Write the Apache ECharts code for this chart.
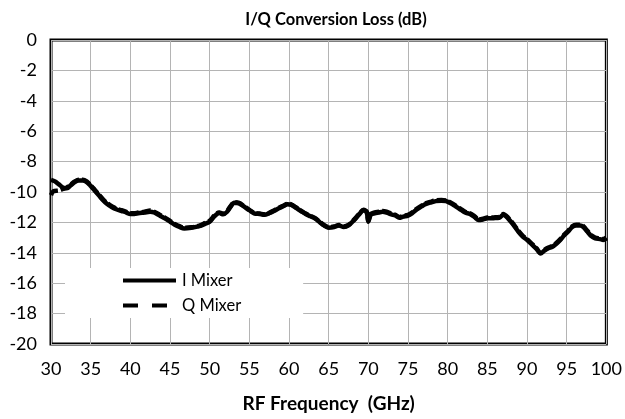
<!DOCTYPE html>
<html>
<head>
<meta charset="utf-8">
<script src="https://cdn.jsdelivr.net/npm/echarts@6/dist/echarts.min.js"></script>
<style>html,body{margin:0;padding:0;background:#fff}#c{width:625px;height:419px}</style>
</head>
<body>
<div id="c"></div>
<script>
var freqI = [30,30.5,31,31.5,32,32.5,33,33.5,34,34.5,35,35.5,36,36.5,37,37.7,38.3,38.9,39.5,40,40.5,41,41.8,42.5,43,43.7,44.4,45,45.6,46.2,46.8,47.7,48.7,49.4,50,50.6,51.2,51.7,52.2,52.6,53.1,53.7,54.3,55,55.6,56.3,56.9,57.5,58.1,58.8,59.4,59.8,60.3,60.9,61.5,62.1,62.7,63.3,63.9,64.4,65,65.7,66.3,66.9,67.5,68.2,68.8,69.4,69.8,70,70.3,70.8,71.3,71.8,72.3,72.9,73.4,73.9,74.4,75,75.5,76.1,76.7,77.2,77.8,78.5,79.2,79.8,80.4,81,81.6,82.2,82.8,83.4,83.9,84.5,85,85.8,86.5,87,87.6,88.2,88.9,89.5,90,90.7,91.2,91.7,92.2,92.7,93.2,93.7,94.2,94.7,95.2,95.7,96.2,96.7,97.1,97.6,98.1,98.6,99.2,99.6,100];
var lossI = [-9.2,-9.3,-9.5,-9.7,-9.75,-9.55,-9.35,-9.25,-9.25,-9.35,-9.6,-9.9,-10.2,-10.5,-10.75,-11.0,-11.15,-11.25,-11.35,-11.45,-11.45,-11.4,-11.35,-11.3,-11.35,-11.55,-11.75,-11.95,-12.15,-12.3,-12.4,-12.35,-12.25,-12.1,-11.95,-11.6,-11.38,-11.47,-11.3,-11.0,-10.7,-10.75,-10.95,-11.2,-11.4,-11.45,-11.5,-11.4,-11.25,-11.05,-10.9,-10.8,-10.85,-11.05,-11.25,-11.45,-11.6,-11.75,-12.0,-12.2,-12.35,-12.3,-12.2,-12.3,-12.2,-11.85,-11.5,-11.2,-11.35,-11.95,-11.5,-11.4,-11.35,-11.3,-11.35,-11.47,-11.55,-11.7,-11.62,-11.55,-11.4,-11.15,-10.95,-10.8,-10.7,-10.6,-10.57,-10.6,-10.75,-10.95,-11.15,-11.35,-11.45,-11.65,-11.85,-11.8,-11.73,-11.72,-11.7,-11.5,-11.73,-12.1,-12.6,-12.95,-13.15,-13.5,-13.75,-14.05,-13.85,-13.7,-13.6,-13.4,-13.15,-12.85,-12.6,-12.3,-12.2,-12.2,-12.3,-12.6,-12.9,-13.05,-13.1,-13.15,-13.05];
var freqQ = [30,30.3,31,31.5,32,32.5,33,33.5,34,34.5,35,35.5,36,36.5,37,37.7,38.3,38.9,39.5,40,40.5,41,41.8,42.5,43,43.7,44.4,45,45.6,46.2,46.8,47.7,48.7,49.4,50,50.6,51.2,51.7,52.2,52.6,53.1,53.7,54.3,55,55.6,56.3,56.9,57.5,58.1,58.8,59.4,59.8,60.3,60.9,61.5,62.1,62.7,63.3,63.9,64.4,65,65.7,66.3,66.9,67.5,68.2,68.8,69.4,69.8,70,70.3,70.8,71.3,71.8,72.3,72.9,73.4,73.9,74.4,75,75.5,76.1,76.7,77.2,77.8,78.5,79.2,79.8,80.4,81,81.6,82.2,82.8,83.4,83.9,84.5,85,85.8,86.5,87,87.6,88.2,88.9,89.5,90,90.7,91.2,91.7,92.2,92.7,93.2,93.7,94.2,94.7,95.2,95.7,96.2,96.7,97.1,97.6,98.1,98.6,99.2,99.6,100];
var lossQ = [-10.2,-9.95,-9.9,-9.8,-9.7,-9.5,-9.3,-9.2,-9.2,-9.3,-9.55,-9.85,-10.15,-10.45,-10.7,-10.95,-11.1,-11.2,-11.3,-11.4,-11.4,-11.35,-11.3,-11.22,-11.3,-11.5,-11.7,-11.9,-12.1,-12.25,-12.35,-12.32,-12.22,-12.05,-11.9,-11.55,-11.35,-11.43,-11.25,-10.95,-10.68,-10.72,-10.92,-11.17,-11.37,-11.42,-11.47,-11.37,-11.22,-11.02,-10.87,-10.78,-10.82,-11.02,-11.22,-11.42,-11.57,-11.72,-11.97,-12.17,-12.32,-12.27,-12.17,-12.27,-12.17,-11.82,-11.47,-11.17,-11.3,-11.9,-11.45,-11.35,-11.3,-11.25,-11.3,-11.42,-11.5,-11.65,-11.57,-11.5,-11.35,-11.1,-10.9,-10.75,-10.65,-10.55,-10.52,-10.55,-10.7,-10.9,-11.1,-11.3,-11.4,-11.6,-11.8,-11.75,-11.68,-11.67,-11.65,-11.45,-11.68,-12.05,-12.55,-12.9,-13.1,-13.45,-13.7,-14.0,-13.8,-13.65,-13.55,-13.35,-13.1,-12.8,-12.55,-12.25,-12.15,-12.15,-12.25,-12.55,-12.85,-13.0,-13.05,-13.1,-13.0];
var xTicks = [30,35,40,45,50,55,60,65,70,75,80,85,90,95,100];
var yTicks = [0,-2,-4,-6,-8,-10,-12,-14,-16,-18,-20];

function pairs(xs, ys){ var o=[]; for(var i=0;i<xs.length;i++) o.push([xs[i], ys[i]]); return o; }

var FONT = 'Lato';
var chart = echarts.init(document.getElementById('c'), null, {renderer:'canvas'});
chart.setOption({
  animation:false,
  backgroundColor:'#fff',
  title:{
    text:'I/Q Conversion Loss (dB)',
    left:331, top:6, textAlign:'center',
    textStyle:{fontFamily:FONT, fontWeight:'bold', fontSize:16.5, color:'#000'}
  },
  grid:{left:51, right:16, top:40, bottom:75, show:true, borderColor:'#000', borderWidth:3, backgroundColor:'transparent'},
  legend:{
    orient:'vertical', left:65, top:268,
    backgroundColor:'#fff',
    padding:[4,62,4,58],
    itemWidth:53, itemHeight:14, itemGap:8,
    textStyle:{fontFamily:FONT, fontSize:16.5, color:'#000', padding:[0,0,0,1]},
    data:[
      {name:'I Mixer', icon:'path://M0,0L53,0L53,4L0,4Z', itemStyle:{color:'#000'}},
      {name:'Q Mixer', icon:'path://M0,0L15,0L15,4L0,4ZM29,0L44,0L44,4L29,4ZM52.9,0L53,0L53,0.05L52.9,0.05Z', itemStyle:{color:'#000'}}
    ]
  },
  xAxis:{
    type:'value', min:30, max:100, interval:5,
    name:'RF Frequency  (GHz)', nameLocation:'middle', nameGap:50,
    nameTextStyle:{fontFamily:FONT, fontWeight:'bold', fontSize:19, color:'#000'},
    axisLine:{show:false}, axisTick:{show:false},
    axisLabel:{fontFamily:FONT, fontSize:18, color:'#000', margin:16,
      formatter:function(v){ return xTicks.indexOf(v)>=0 ? String(v) : ''; }},
    splitLine:{show:true, lineStyle:{color:'#b4b4b4', width:1}}
  },
  yAxis:{
    type:'value', min:-20, max:0, interval:2,
    axisLine:{show:false}, axisTick:{show:false},
    axisLabel:{fontFamily:FONT, fontSize:18, color:'#000', margin:14,
      formatter:function(v){ return yTicks.indexOf(v)>=0 ? String(v) : ''; }},
    splitLine:{show:true, lineStyle:{color:'#b4b4b4', width:1}}
  },
  series:[
    {name:'I Mixer', type:'line', data:pairs(freqI, lossI), showSymbol:false, symbol:'none', smooth:0.3,
      lineStyle:{color:'#000', width:4.5}, itemStyle:{color:'#000'}, z:3},
    {name:'Q Mixer', type:'line', data:pairs(freqQ, lossQ), showSymbol:false, symbol:'none', smooth:0.3,
      lineStyle:{color:'#000', width:4.5, type:[9,3]}, itemStyle:{color:'#000'}, z:4}
  ]
});
</script>
</body>
</html>
